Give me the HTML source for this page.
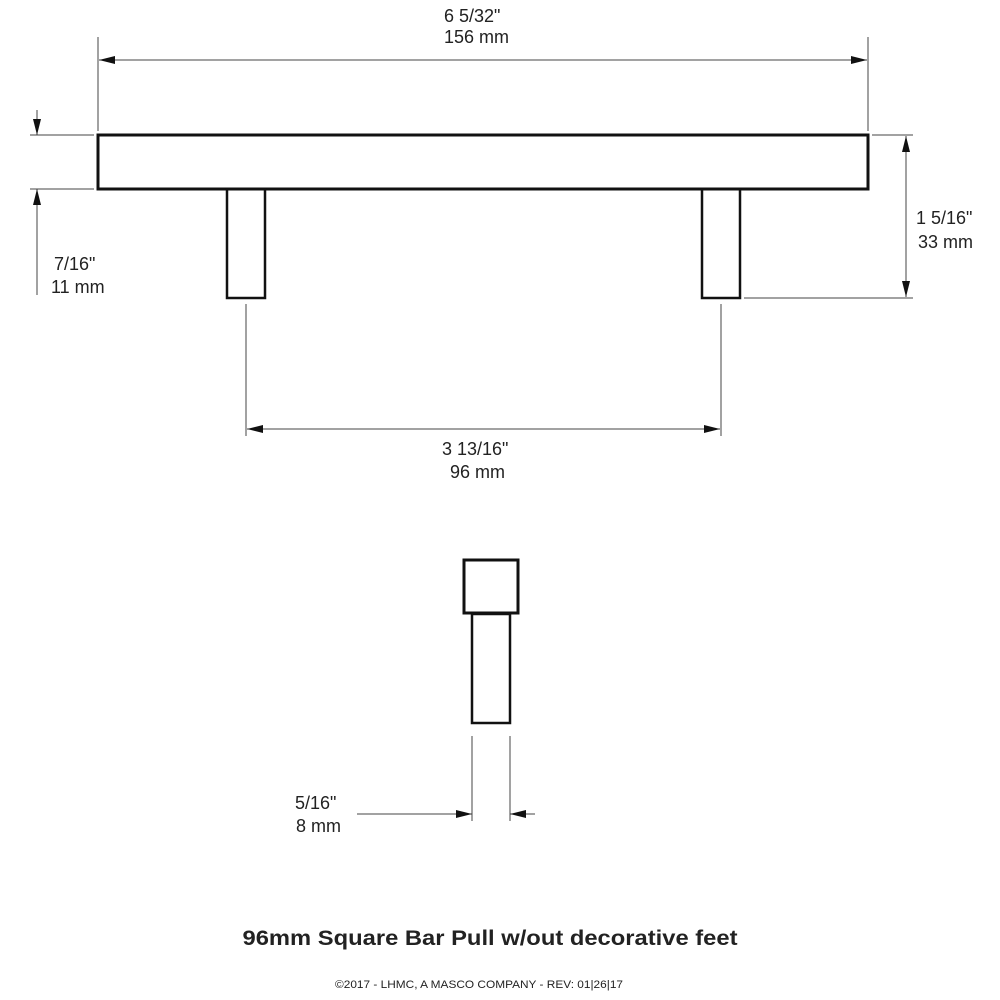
<!DOCTYPE html>
<html><head><meta charset="utf-8"><style>
html,body{margin:0;padding:0;background:#fff;}
svg{display:block;}
text{font-family:"Liberation Sans",Arial,sans-serif;fill:#222;}
</style></head><body>
<svg width="1000" height="1000" viewBox="0 0 1000 1000" xmlns="http://www.w3.org/2000/svg">
<defs>
<marker id="a" viewBox="0 0 16 8" refX="16" refY="4" markerWidth="16" markerHeight="8" markerUnits="userSpaceOnUse" orient="auto-start-reverse">
<path d="M0,0 L16,4 L0,8 z" fill="#111"/></marker>
</defs>
<g fill="none" stroke="#111">
<rect x="98" y="135" width="770" height="54" stroke-width="3"/>
<rect x="227" y="189" width="38" height="109" stroke-width="2.5"/>
<rect x="702" y="189" width="38" height="109" stroke-width="2.5"/>
<rect x="464" y="560" width="54" height="53" stroke-width="3"/>
<rect x="472" y="614" width="38" height="109" stroke-width="2.5"/>
</g>
<g stroke="#444" stroke-width="1" fill="none">
<line x1="98" y1="37" x2="98" y2="131"/>
<line x1="868" y1="37" x2="868" y2="131"/>
<line x1="99" y1="60" x2="867" y2="60" marker-start="url(#a)" marker-end="url(#a)"/>
<line x1="30" y1="135" x2="94" y2="135"/>
<line x1="30" y1="189" x2="94" y2="189"/>
<line x1="37" y1="110" x2="37" y2="135" marker-end="url(#a)"/>
<line x1="37" y1="295" x2="37" y2="189" marker-end="url(#a)"/>
<line x1="872" y1="135" x2="913" y2="135"/>
<line x1="744" y1="298" x2="913" y2="298"/>
<line x1="906" y1="136" x2="906" y2="297" marker-start="url(#a)" marker-end="url(#a)"/>
<line x1="246" y1="304" x2="246" y2="436"/>
<line x1="721" y1="304" x2="721" y2="436"/>
<line x1="247" y1="429" x2="720" y2="429" marker-start="url(#a)" marker-end="url(#a)"/>
<line x1="472" y1="736" x2="472" y2="821"/>
<line x1="510" y1="736" x2="510" y2="821"/>
<line x1="357" y1="814" x2="472" y2="814" marker-end="url(#a)"/>
<line x1="535" y1="814" x2="510" y2="814" marker-end="url(#a)"/>
</g>
<g font-size="18">
<text x="444" y="22">6 5/32"</text>
<text x="444" y="43">156 mm</text>
<text x="916" y="224">1 5/16"</text>
<text x="918" y="248">33 mm</text>
<text x="54" y="270">7/16"</text>
<text x="51" y="293">11 mm</text>
<text x="442" y="455">3 13/16"</text>
<text x="450" y="478">96 mm</text>
<text x="295" y="809">5/16"</text>
<text x="296" y="832">8 mm</text>
</g>
<text x="490" y="945" text-anchor="middle" font-size="21" font-weight="bold" textLength="495" lengthAdjust="spacingAndGlyphs">96mm Square Bar Pull w/out decorative feet</text>
<text x="479" y="988" text-anchor="middle" font-size="11" textLength="288" lengthAdjust="spacingAndGlyphs">©2017 - LHMC, A MASCO COMPANY - REV: 01|26|17</text>
</svg>
</body></html>
